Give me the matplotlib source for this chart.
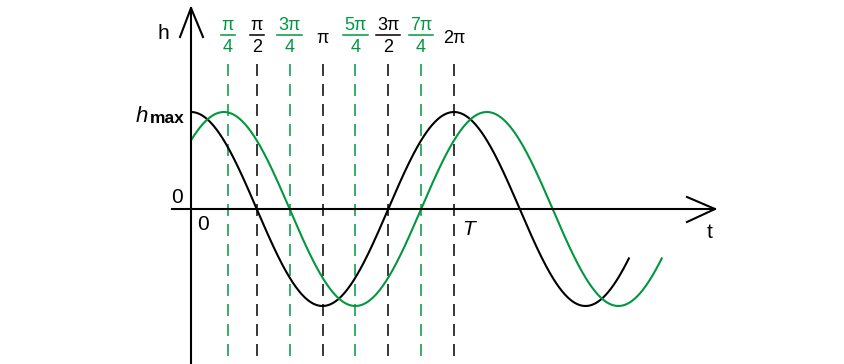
import numpy as np
import matplotlib.pyplot as plt
from matplotlib.lines import Line2D

plt.rcParams['font.family'] = ['Liberation Sans', 'DejaVu Sans']
plt.rcParams['lines.scale_dashes'] = False

GREEN = '#00983f'
BLACK = '#000000'

# curves: h = amp * cos(t - phase), drawn from t=0 to t_end
phases = [0.0, np.pi / 4]
t_ends = [10 * np.pi / 3, 10 * np.pi / 3 + np.pi / 4]
curve_colors = [BLACK, GREEN]
amp = 1.0

# dashed guide lines (in units of pi) and their labels
guide_pos = [0.28, 0.5, 0.75, 1.0, 1.25, 1.5, 1.75, 2.0]
guide_green = [True, False, True, False, True, False, True, False]
numerators = ['π', 'π', '3π', 'π', '5π', '3π', '7π', '2π']
denominators = ['4', '2', '4', None, '4', '2', '4', None]

W, H = 844, 364
X0, Y0 = 191, 209          # pixel position of the origin
PX_RAD = 263 / (2 * np.pi)  # pixels per radian
PX_H = 97                   # pixels per unit of h


def xd(px):
    return (px - X0) / PX_RAD


def yd(py):
    return (Y0 - py) / PX_H


fig = plt.figure(figsize=(W / 100, H / 100), dpi=100)
ax = fig.add_axes([0, 0, 1, 1])
ax.axis('off')
ax.set_xlim(xd(0), xd(W))
ax.set_ylim(yd(H), yd(0))

# guide lines
for p, g in zip(guide_pos, guide_green):
    c = GREEN if g else BLACK
    x = p * np.pi
    ax.plot([x, x], [yd(64), yd(H)], color=c, lw=1.1,
            dashes=(8.6, 5.8), solid_capstyle='butt')

# curves
for ph, te, c in zip(phases, t_ends, curve_colors):
    t = np.linspace(0, te, 600)
    ax.plot(t, amp * np.cos(t - ph), color=c, lw=1.5, solid_capstyle='butt')

# axes with open arrowheads
ax.plot([0, 0], [yd(H), yd(8)], color=BLACK, lw=1.5)
ax.plot([xd(180), 0, xd(203)], [yd(37), yd(8), yd(37)], color=BLACK, lw=1.5,
        solid_joinstyle='miter')
ax.plot([xd(172), xd(715)], [0, 0], color=BLACK, lw=1.5)
ax.plot([xd(687), xd(715), xd(687)], [yd(197), 0, yd(222)], color=BLACK, lw=1.5,
        solid_joinstyle='miter')

# axis labels
ax.text(xd(163), yd(39), 'h', fontsize=15, ha='center', va='baseline')
ax.text(xd(710), yd(238), 't', fontsize=15, ha='center', va='baseline')
ax.text(xd(177), yd(203), '0', fontsize=15, ha='center', va='baseline')
ax.text(xd(203), yd(230), '0', fontsize=15, ha='center', va='baseline')
ax.text(xd(468), yd(235), 'T', fontsize=15, style='italic', ha='center', va='baseline')
ax.text(xd(148), yd(122), 'h', fontsize=16, style='italic', ha='right', va='baseline')
ax.text(xd(150), yd(123), 'max', fontsize=12.5, weight='bold', ha='left', va='baseline')

# top fraction labels
renderer = fig.canvas.get_renderer()
for p, g, num, den in zip(guide_pos, guide_green, numerators, denominators):
    c = GREEN if g else BLACK
    x = p * np.pi
    if den is None:
        ax.text(x, yd(43), num, fontsize=13, color=c, ha='center', va='baseline')
        continue
    tx = ax.text(x, yd(30), num, fontsize=13, color=c, ha='center', va='baseline')
    ax.text(x, yd(52), den, fontsize=13, color=c, ha='center', va='baseline')
    bb = tx.get_window_extent(renderer)
    fig.add_artist(Line2D([(bb.x0 - 1) / W, (bb.x1 + 1) / W],
                          [1 - 34.5 / H, 1 - 34.5 / H],
                          transform=fig.transFigure, color=c, lw=1.1))

fig.savefig('out.png', dpi=100)
